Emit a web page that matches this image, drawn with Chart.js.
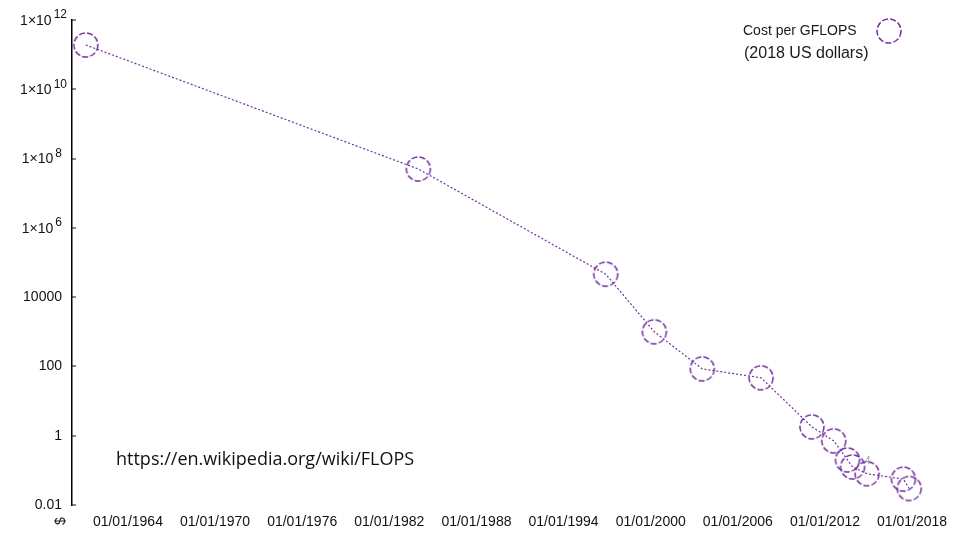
<!DOCTYPE html>
<html>
<head>
<meta charset="utf-8">
<script src="https://cdn.jsdelivr.net/npm/chart.js@4/dist/chart.umd.min.js"></script>
<style>
  html, body { margin: 0; background: #fff; }
  #wrap { position: relative; width: 960px; height: 540px; }
</style>
</head>
<body>
<div id="wrap"><canvas id="c" width="960" height="540"></canvas></div>
<script>
/* ---------- data ---------- */
const years = [1961.1, 1984.0, 1996.9, 2000.25, 2003.55, 2007.6, 2011.1, 2012.6, 2013.55, 2013.9, 2014.9, 2017.4, 2017.8];
const costs = [1.9e11, 5e7, 4.6e4, 1000, 85, 47, 1.8, 0.71, 0.2, 0.126, 0.08, 0.056, 0.03];

const yTicks = [0.01, 1, 100, 1e4, 1e6, 1e8, 1e10, 1e12];
// [base, exponent]
const yLabels = [["0.01", ""], ["1", ""], ["100", ""], ["10000", ""], ["1×10", "6"], ["1×10", "8"], ["1×10", "10"], ["1×10", "12"]];
const xTicks = [1964, 1970, 1976, 1982, 1988, 1994, 2000, 2006, 2012, 2018];

const seriesLabel = ["Cost per GFLOPS", "(2018 US dollars)"];
const sourceNote = "https://en.wikipedia.org/wiki/FLOPS";

const PURPLE = "#7030a0";
const FONT = "'Liberation Sans', Arial, sans-serif";

/* ---------- dashed circle marker ---------- */
function dashedCircle(r) {
  const cv = document.createElement("canvas");
  cv.width = cv.height = r * 2 + 4;
  const ctx = cv.getContext("2d");
  ctx.strokeStyle = PURPLE;
  ctx.lineWidth = 1.5;
  ctx.setLineDash([6, 2.2]);
  ctx.beginPath();
  ctx.arc(r + 2, r + 2, r, 0, Math.PI * 2);
  ctx.stroke();
  return cv;
}
const marker = dashedCircle(12);

/* ---------- y labels with raised exponents ---------- */
const yAxisLabels = {
  id: "yAxisLabels",
  afterDraw(chart) {
    const ctx = chart.ctx;
    const s = chart.scales.y;
    const x0 = s.right;
    ctx.save();
    ctx.fillStyle = "#111";
    ctx.textBaseline = "middle";
    ctx.textAlign = "right";
    yTicks.forEach((v, i) => {
      const y = s.getPixelForValue(v);
      const [base, exp] = yLabels[i];
      let right = 62;
      if (exp) {
        ctx.font = `12px ${FONT}`;
        right = exp.length > 1 ? 67 : 62;
        ctx.fillText(exp, right, y - 5);
        right -= ctx.measureText(exp).width + 2;
      }
      ctx.font = `14px ${FONT}`;
      ctx.fillText(base, right, exp ? y + 1 : y);
      // small inner tick
      ctx.fillRect(x0, Math.round(y) - 0.5, 4, 1);
    });
    ctx.restore();
  },
};

/* ---------- extra texts ---------- */
const extras = {
  id: "extras",
  afterDraw(chart) {
    const ctx = chart.ctx;
    ctx.save();
    ctx.fillStyle = "#1a1a1a";
    ctx.textBaseline = "middle";
    ctx.textAlign = "left";
    ctx.font = `14px ${FONT}`;
    ctx.fillText(seriesLabel[0], 743, 31);
    ctx.font = `16px ${FONT}`;
    ctx.fillText(seriesLabel[1], 744, 54);
    ctx.drawImage(marker, 889 - marker.width / 2, 31 - marker.height / 2);

    ctx.fillStyle = "#111";
    ctx.font = "18px 'Open Sans', sans-serif";
    ctx.fillText(sourceNote, 116, 460);

    ctx.fillStyle = "#999";
    ctx.font = `10px ${FONT}`;
    ctx.fillText("4", 865, 461);

    ctx.fillStyle = "#222";
    ctx.font = `14px ${FONT}`;
    ctx.translate(61, 521);
    ctx.rotate(-Math.PI / 2);
    ctx.textAlign = "center";
    ctx.fillText("$", 0, 0);
    ctx.restore();
  },
};

/* ---------- chart ---------- */
new Chart(document.getElementById("c"), {
  type: "line",
  data: {
    datasets: [{
      label: seriesLabel.join(" "),
      data: years.map((x, i) => ({ x, y: costs[i] })),
      borderColor: PURPLE,
      borderWidth: 1.2,
      borderDash: [2, 2],
      pointStyle: marker,
      pointRadius: 12,
      tension: 0,
      fill: false,
    }],
  },
  options: {
    responsive: false,
    animation: false,
    layout: { padding: { top: 20, right: 37, left: 0, bottom: 0 } },
    plugins: { legend: { display: false }, tooltip: { enabled: false } },
    scales: {
      x: {
        type: "linear",
        min: 1960.15,
        max: 2018.75,
        afterBuildTicks: (s) => { s.ticks = xTicks.map((v) => ({ value: v })); },
        afterFit: (s) => { s.height = 35; },
        ticks: {
          callback: (v) => "01/01/" + v,
          color: "#111",
          font: { family: FONT, size: 14 },
          padding: 9,
          maxRotation: 0,
          autoSkip: false,
        },
        grid: { display: false, drawTicks: false },
        border: { display: false },
      },
      y: {
        type: "logarithmic",
        min: 0.01,
        max: 1e12,
        afterBuildTicks: (s) => { s.ticks = yTicks.map((v) => ({ value: v })); },
        afterFit: (s) => { s.width = 72; },
        ticks: { display: false },
        grid: { display: false, drawTicks: false },
        border: { display: true, color: "#000", width: 1.5 },
      },
    },
  },
  plugins: [yAxisLabels, extras],
});
</script>
</body>
</html>
